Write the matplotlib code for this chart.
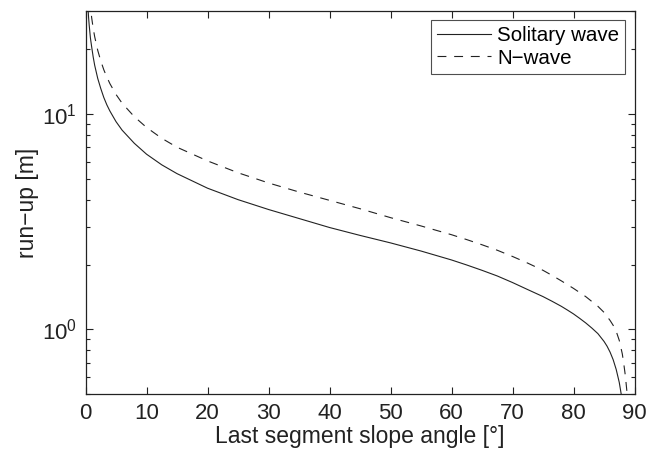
import matplotlib
matplotlib.use('Agg')
import matplotlib.pyplot as plt
from matplotlib.ticker import LogLocator, NullFormatter

plt.rcParams['font.family'] = ['Liberation Sans', 'DejaVu Sans']

# solitary wave run-up
angle_sol = [0.4, 0.5, 0.6, 0.8, 1, 1.25, 1.5, 2, 2.5, 3, 3.5, 4, 5, 6, 8, 10, 12.5, 15,
             20, 25, 30, 35, 40, 45, 50, 55, 60, 62.5, 65, 67.5, 70, 72.5, 75, 76.5, 78,
             79, 80, 81, 82, 83, 84, 85, 85.5, 86, 86.5, 87, 87.5, 88, 88.3]
runup_sol = [31, 28, 25.8, 22.5, 20.5, 18.4, 16.8, 14.6, 13.1, 11.9, 11.0, 10.3, 9.2,
             8.4, 7.3, 6.5, 5.8, 5.28, 4.52, 4.0, 3.6, 3.27, 2.97, 2.73, 2.52, 2.31,
             2.1, 1.99, 1.88, 1.77, 1.65, 1.53, 1.42, 1.35, 1.28, 1.23, 1.18, 1.126,
             1.072, 1.015, 0.956, 0.88, 0.836, 0.784, 0.724, 0.652, 0.568, 0.467, 0.401]

# N-wave run-up
angle_n = [0.7, 0.9, 1, 1.25, 1.5, 2, 2.5, 3, 3.5, 4, 5, 6, 8, 10, 12.5, 15, 20, 25, 30,
           35, 40, 45, 50, 55, 60, 62.5, 65, 67.5, 70, 72.5, 75, 76.5, 78, 80, 82, 84,
           85, 86, 86.5, 87, 87.5, 88, 88.25, 88.5, 88.8, 89]
runup_n = [34, 30, 28, 25.0, 22.8, 19.7, 17.6, 16.0, 14.8, 13.8, 12.3, 11.2, 9.7, 8.65,
           7.7, 7.0, 6.05, 5.33, 4.78, 4.34, 3.97, 3.63, 3.3, 3.02, 2.75, 2.61, 2.47,
           2.33, 2.18, 2.03, 1.88, 1.78, 1.68, 1.55, 1.42, 1.28, 1.2, 1.1, 1.045, 0.98,
           0.89, 0.77, 0.69, 0.61, 0.5, 0.43]

fig = plt.figure(figsize=(6.46, 4.49), dpi=100)
ax = fig.add_axes([0.1324, 0.1218, 0.8498, 0.8537])

ax.plot(angle_sol, runup_sol, '-', color='#222222', lw=0.8, label='Solitary wave')
ax.plot(angle_n, runup_n, '--', color='#222222', lw=0.8, dashes=(8, 7), label='N\u2212wave')

ax.set_yscale('log')
ax.set_xlim(0, 90)
ax.set_ylim(0.5, 30)
ax.set_xticks(range(0, 91, 10))
ax.yaxis.set_major_locator(LogLocator(base=10, numticks=5))
ax.yaxis.set_minor_locator(LogLocator(base=10, subs=range(2, 10), numticks=10))
ax.yaxis.set_minor_formatter(NullFormatter())

ax.tick_params(which='both', direction='in', top=True, right=True, labelsize=16,
               width=0.8, color='#222222', labelcolor='#222222')
ax.tick_params(which='major', length=5, pad=6)
ax.tick_params(which='minor', length=3)
for s in ax.spines.values():
    s.set_linewidth(0.9)
    s.set_color('#222222')

ax.set_xlabel('Last segment slope angle [\u00b0]', fontsize=16.5, color='#222222', labelpad=1)
ax.set_ylabel('run\u2212up [m]', fontsize=16.5, color='#222222', labelpad=2)

leg = ax.legend(loc='upper right', fontsize=14.8, frameon=True, fancybox=False,
                handlelength=2.6, borderpad=0.3, labelspacing=0.15,
                handletextpad=0.3, borderaxespad=0.45)
leg.get_frame().set_edgecolor('#222222')
leg.get_frame().set_linewidth(0.8)

fig.savefig('out.png', dpi=100)
